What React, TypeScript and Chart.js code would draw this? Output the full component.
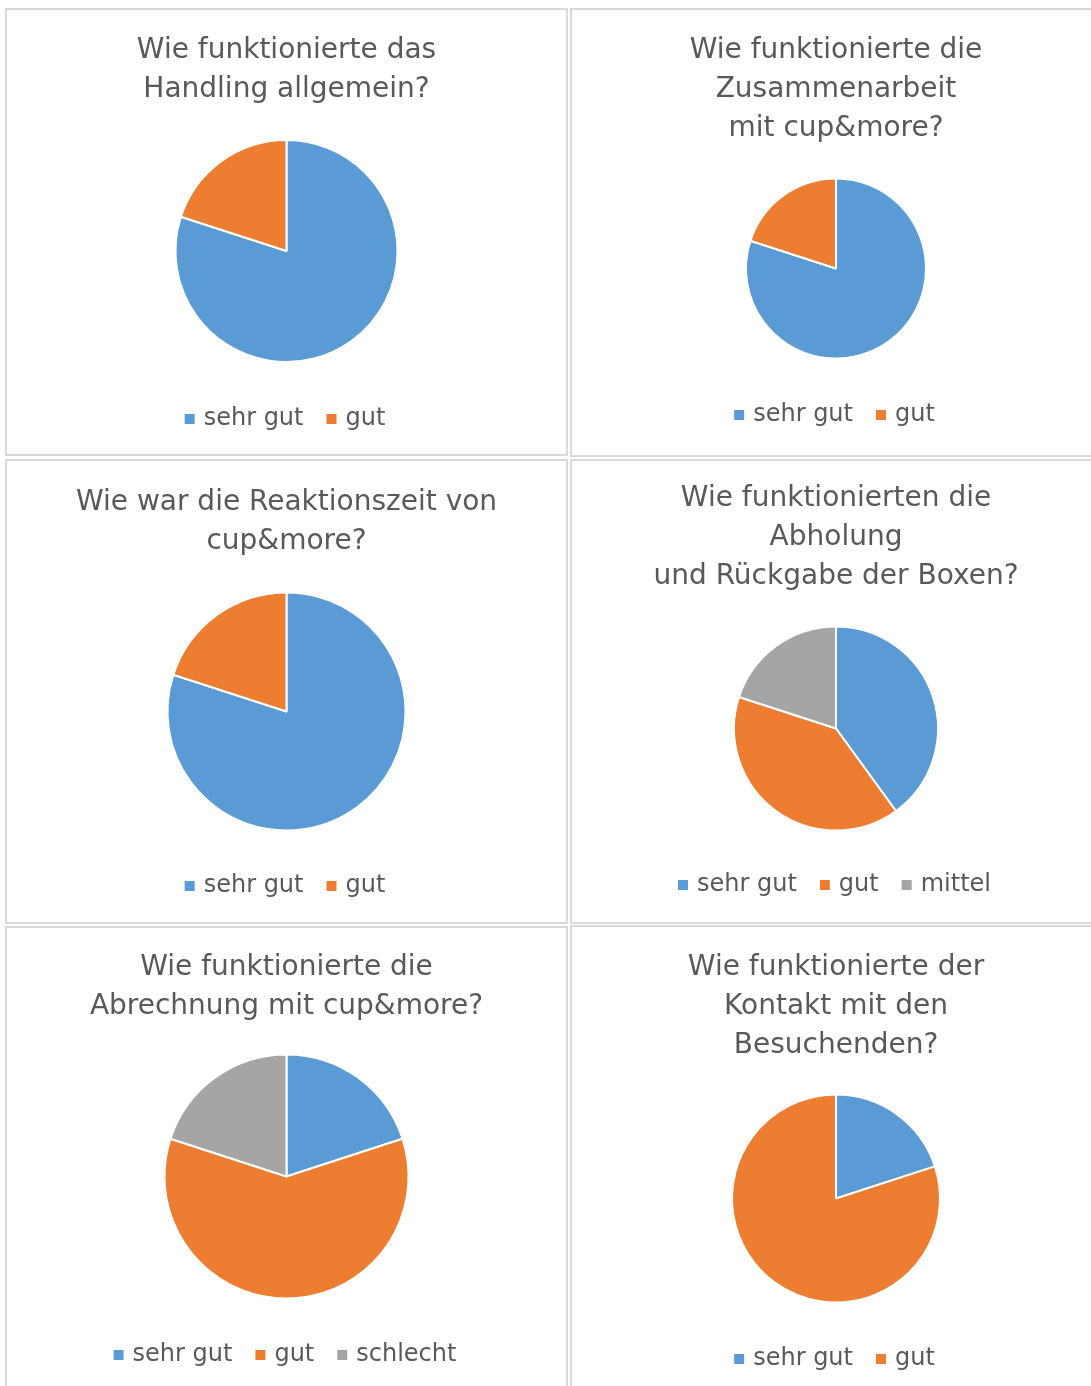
import React, { useEffect, useRef } from "react";
import { Chart, registerables } from "chart.js";

Chart.register(...registerables);

// ---- data ----
const labelsTwo = ["sehr gut", "gut"];
const labelsMittel = ["sehr gut", "gut", "mittel"];
const labelsSchlecht = ["sehr gut", "gut", "schlecht"];

const handlingValues = [4, 1];
const zusammenarbeitValues = [4, 1];
const reaktionszeitValues = [4, 1];
const abholungValues = [2, 2, 1];
const abrechnungValues = [1, 3, 1];
const kontaktValues = [1, 4];

const titleHandling = ["Wie funktionierte das", "Handling allgemein?"];
const titleZusammenarbeit = ["Wie funktionierte die", "Zusammenarbeit", "mit cup&more?"];
const titleReaktion = ["Wie war die Reaktionszeit von", "cup&more?"];
const titleAbholung = ["Wie funktionierten die", "Abholung", "und Rückgabe der Boxen?"];
const titleAbrechnung = ["Wie funktionierte die", "Abrechnung mit cup&more?"];
const titleKontakt = ["Wie funktionierte der", "Kontakt mit den", "Besuchenden?"];

const sliceColors = ["#5B9BD5", "#ED7D31", "#A5A5A5"];

// ---- layout (not data) ----
type Panel = {
  left: number; top: number; width: number; height: number;
  labels: string[]; values: number[]; title: string[];
  radius: number; tTop: number; tBottom: number; pBottom: number;
};

const panels: Panel[] = [
  { left: 5, top: 8, width: 563, height: 448, labels: labelsTwo, values: handlingValues, title: titleHandling, radius: 111, tTop: 21.5, tBottom: 11.5, pBottom: 13 },
  { left: 570, top: 8, width: 532, height: 449, labels: labelsTwo, values: zusammenarbeitValues, title: titleZusammenarbeit, radius: 90, tTop: 21.5, tBottom: 11.5, pBottom: 18 },
  { left: 5, top: 459, width: 563, height: 465, labels: labelsTwo, values: reaktionszeitValues, title: titleReaktion, radius: 119, tTop: 22.5, tBottom: 13.5, pBottom: 14 },
  { left: 570, top: 459, width: 532, height: 465, labels: labelsMittel, values: abholungValues, title: titleAbholung, radius: 102, tTop: 18.5, tBottom: 13.5, pBottom: 15 },
  { left: 5, top: 926, width: 563, height: 474, labels: labelsSchlecht, values: abrechnungValues, title: titleAbrechnung, radius: 122, tTop: 20.5, tBottom: 9.5, pBottom: 21 },
  { left: 570, top: 925, width: 532, height: 474, labels: labelsTwo, values: kontaktValues, title: titleKontakt, radius: 104, tTop: 21.5, tBottom: 10.5, pBottom: 16 },
];

const FONT = "'DejaVu Sans', Verdana, sans-serif";
const TEXT = "#595959";

function PiePanel({ p }: { p: Panel }) {
  const ref = useRef<HTMLCanvasElement | null>(null);
  const innerW = p.width - 4;
  const innerH = p.height - 4;
  useEffect(() => {
    if (!ref.current) return;
    const ov: any = (Chart as any).overrides;
    const baseGen =
      ov?.pie?.plugins?.legend?.labels?.generateLabels ??
      ov?.doughnut?.plugins?.legend?.labels?.generateLabels;
    const chart = new Chart(ref.current, {
      type: "pie",
      data: {
        labels: p.labels,
        datasets: [
          {
            data: p.values,
            backgroundColor: sliceColors.slice(0, p.values.length),
            borderColor: "#ffffff",
            borderWidth: 2,
            radius: p.radius,
          } as any,
        ],
      },
      options: {
        responsive: false,
        maintainAspectRatio: false,
        animation: false,
        layout: { padding: { top: 0, bottom: p.pBottom, left: 0, right: 0 } },
        plugins: {
          tooltip: { enabled: false },
          title: {
            display: true,
            text: p.title,
            color: TEXT,
            font: { family: FONT, size: 28, weight: "normal", lineHeight: "39px" } as any,
            padding: { top: p.tTop, bottom: p.tBottom },
          },
          legend: {
            display: true,
            position: "bottom",
            labels: {
              color: TEXT,
              font: { family: FONT, size: 24 },
              usePointStyle: true,
              pointStyle: "rect",
              boxWidth: 4,
              boxHeight: 10,
              padding: 26,
              generateLabels: (c: any) =>
                (baseGen ? baseGen(c) : []).map((l: any) => ({ ...l, lineWidth: 0 })),
            },
          },
        },
      },
    });
    return () => chart.destroy();
  }, [p]);
  return (
    <div
      style={{
        position: "absolute",
        left: p.left,
        top: p.top,
        width: p.width,
        height: p.height,
        border: "2px solid #d9d9d9",
        boxSizing: "border-box",
        background: "#ffffff",
      }}
    >
      <canvas ref={ref} width={innerW} height={innerH} style={{ display: "block", width: innerW, height: innerH }} />
    </div>
  );
}

export default function App() {
  return (
    <div
      style={{
        position: "absolute",
        left: 0,
        top: 0,
        width: 1091,
        height: 1386,
        overflow: "hidden",
        background: "#ffffff",
      }}
    >
      {panels.map((p, i) => (
        <PiePanel key={i} p={p} />
      ))}
    </div>
  );
}
